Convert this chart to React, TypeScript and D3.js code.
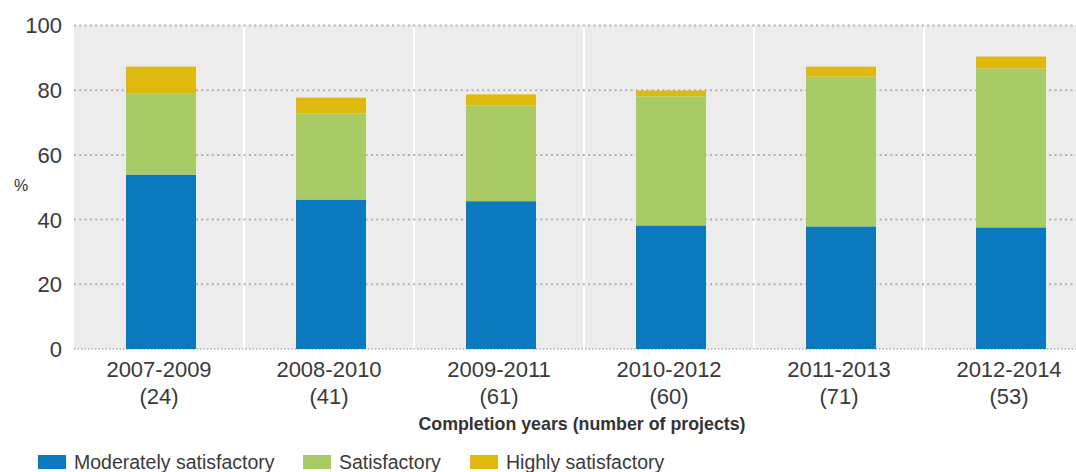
import React from "react";
import * as d3 from "d3";

const categories = ["2007-2009", "2008-2010", "2009-2011", "2010-2012", "2011-2013", "2012-2014"];
const projectCounts = ["(24)", "(41)", "(61)", "(60)", "(71)", "(53)"];
const moderately = [53.9, 46.2, 45.7, 38.2, 37.9, 37.6];
const satisfactory = [25.2, 26.6, 29.6, 39.9, 46.3, 49.1];
const highly = [8.2, 4.9, 3.4, 1.8, 3.1, 3.7];
const yTicks = [0, 20, 40, 60, 80, 100];
const seriesNames = ["Moderately satisfactory", "Satisfactory", "Highly satisfactory"];
const colors = ["#0b79bd", "#a9cb66", "#e0b90f"];

const W = 1076;
const H = 472;
const left = 74;
const right = 1094;
const top = 25.5;
const bottom = 349;
const font = "'Liberation Sans', Arial, Helvetica, sans-serif";

export default function App() {
  const x = d3.scaleBand<string>().domain(categories).range([left, right]).paddingInner(0).paddingOuter(0);
  const xBar = d3.scaleBand<string>().domain(categories).range([left + 2, right + 2]).paddingInner(100 / 170).paddingOuter(50 / 170);
  const y = d3.scaleLinear().domain([0, 100]).range([bottom, top]);

  const rows = categories.map((c, i) => ({ cat: c, m: moderately[i], s: satisfactory[i], h: highly[i] }));
  const stack = d3.stack<any>().keys(["m", "s", "h"])(rows);

  return (
    <svg width={W} height={H} style={{ position: "absolute", left: 0, top: 0 }} fontFamily={font}>
      <rect x={left} y={top} width={right - left} height={bottom - top} fill="#ececec" />
      {categories.slice(1).map((c) => (
        <line key={c} x1={x(c)!} x2={x(c)!} y1={top} y2={bottom} stroke="#ffffff" strokeWidth={2} />
      ))}
      {yTicks.map((t) => (
        <g key={t}>
          <line x1={left} x2={W} y1={y(t)} y2={y(t)} stroke="#b0b0b0" strokeWidth={t === 0 ? 1.5 : 2} strokeDasharray={t === 0 ? "1.5,2" : "2,3.3"} />
          <text x={62} y={y(t)} dy="0.36em" textAnchor="end" fontSize={22} fill="#3a3a3a">{t}</text>
        </g>
      ))}
      {stack.map((layer, li) => (
        <g key={li} fill={colors[li]}>
          {layer.map((d: any, i: number) => (
            <rect key={i} x={xBar(categories[i])!} width={xBar.bandwidth()} y={y(d[1])} height={y(d[0]) - y(d[1])} />
          ))}
        </g>
      ))}
      <text x={14} y={185} dy="0.36em" fontSize={16} fill="#333">%</text>
      {categories.map((c, i) => (
        <g key={c}>
          <text x={x(c)! + x.bandwidth() / 2} y={377} textAnchor="middle" fontSize={22} fill="#3a3a3a">{c}</text>
          <text x={x(c)! + x.bandwidth() / 2} y={404} textAnchor="middle" fontSize={22} fill="#3a3a3a">{projectCounts[i]}</text>
        </g>
      ))}
      <text x={582} y={430} textAnchor="middle" fontSize={17.8} fontWeight="bold" fill="#333">Completion years (number of projects)</text>
      {seriesNames.map((n, i) => {
        const lx = [38, 303, 470][i];
        return (
          <g key={n}>
            <rect x={lx} y={455} width={28} height={14} fill={colors[i]} />
            <text x={lx + 36} y={469} fontSize={19.5} fill="#3a3a3a">{n}</text>
          </g>
        );
      })}
    </svg>
  );
}
